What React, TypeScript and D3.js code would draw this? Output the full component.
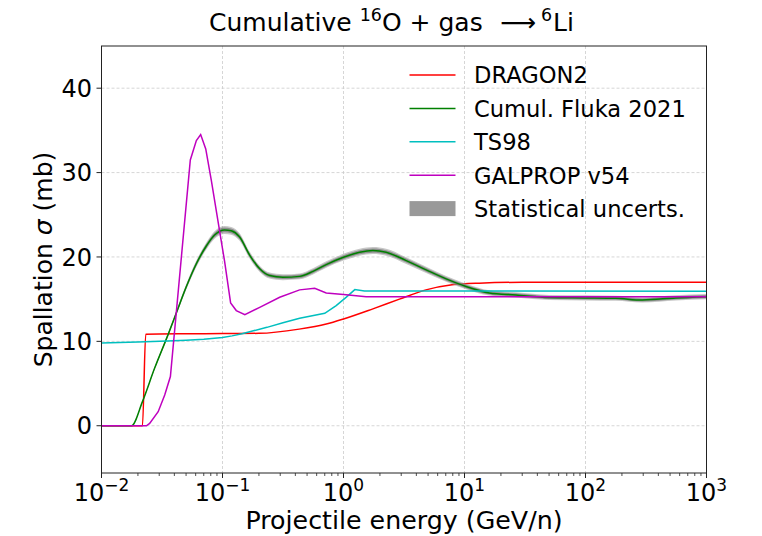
import React from 'react';
import * as d3 from 'd3';

// ---- data ----
const dragonE = [0.01, 0.0218, 0.0232, 0.05, 0.1, 0.2, 0.43, 0.72, 1.0, 1.75, 2.9, 4.8, 7.9, 13.2, 30, 100, 1000];
const dragonS = [0, 0, 10.85, 10.9, 10.92, 10.95, 11.45, 12.05, 12.65, 13.85, 15.0, 16.1, 16.7, 16.9, 17.0, 17.0, 17.0];

const flukaE = [0.01, 0.0177, 0.0218, 0.0275, 0.0355, 0.0416, 0.0503, 0.0608, 0.0735, 0.086, 0.104, 0.118, 0.138, 0.168, 0.203, 0.245, 0.316, 0.434, 0.56, 0.72, 1.0, 1.36, 1.75, 2.25, 3.3, 4.82, 7.05, 10.3, 16, 26.6, 50, 100, 178, 295, 557, 1000];
const flukaS = [0, 0, 2.86, 6.83, 10.8, 13.4, 16.5, 19.2, 21.3, 22.6, 23.2, 23.1, 22.4, 20.2, 18.6, 17.8, 17.6, 17.7, 18.3, 19.1, 19.97, 20.56, 20.76, 20.56, 19.57, 18.47, 17.4, 16.5, 15.74, 15.5, 15.2, 15.15, 15.1, 14.9, 15.15, 15.3];
const flukaRelErr = 0.02;

const ts98E = [0.01, 0.02, 0.035, 0.05, 0.07, 0.1, 0.12, 0.145, 0.18, 0.233, 0.316, 0.434, 0.70, 0.87, 1.05, 1.24, 1.49, 1000];
const ts98S = [9.8, 9.93, 10.03, 10.12, 10.25, 10.45, 10.65, 10.9, 11.25, 11.66, 12.2, 12.73, 13.33, 14.24, 15.22, 16.13, 15.97, 15.95];

const galpropE = [0.01, 0.0235, 0.025, 0.0294, 0.0333, 0.0371, 0.0542, 0.0608, 0.066, 0.0727, 0.0809, 0.0946, 0.104, 0.1167, 0.13, 0.153, 0.203, 0.297, 0.434, 0.578, 0.72, 1.0, 1.54, 1000];
const galpropS = [0, 0, 0.28, 1.67, 3.65, 5.83, 31.5, 33.8, 34.5, 32.8, 29.05, 23.1, 19.5, 14.56, 13.65, 13.17, 14.03, 15.22, 16.1, 16.29, 15.74, 15.54, 15.3, 15.3];

const xTickExps = [-2, -1, 0, 1, 2, 3];
const yTicks = [0, 10, 20, 30, 40];
const legendLabels = ['DRAGON2', 'Cumul. Fluka 2021', 'TS98', 'GALPROP v54', 'Statistical uncerts.'];
const legendColors = ['#ff0000', '#008000', '#00bfbf', '#bf00bf', '#999999'];

const FONT = "'DejaVu Sans', sans-serif";

export default function App() {
  const L = 101.5, R = 706.5, T = 46, B = 473;
  const x = d3.scaleLog().domain([1e-2, 1e3]).range([L, R]);
  const y = d3.scaleLinear().domain([-5.6, 45]).range([B, T]);

  const mkLine = (E: number[], S: number[], curve: any) =>
    d3.line<number>().x((_, i) => x(E[i])).y((d) => y(d)).curve(curve)(S) || '';

  const mkBand = (rel: number) => d3.area<number>()
    .x((_, i) => x(flukaE[i]))
    .y0((d) => y(d * (1 - rel)))
    .y1((d) => y(d * (1 + rel)))
    .curve(d3.curveMonotoneX)(flukaS) || '';

  const minorTicks: number[] = [];
  for (let e = -2; e < 3; e++) for (let k = 2; k <= 9; k++) minorTicks.push(k * Math.pow(10, e));

  const gridStyle = { stroke: '#cccccc', strokeWidth: 0.8, strokeDasharray: '3,2' };

  return (
    <svg width={762} height={536} style={{ position: 'absolute', left: 0, top: 0, background: '#fff' }} fontFamily={FONT}>
      <rect x={0} y={0} width={762} height={536} fill="#fff" />
      {/* grid */}
      {xTickExps.slice(1, -1).map((e) => (
        <line key={'gx' + e} x1={x(Math.pow(10, e))} x2={x(Math.pow(10, e))} y1={T} y2={B} {...gridStyle} />
      ))}
      {yTicks.map((t) => (
        <line key={'gy' + t} x1={L} x2={R} y1={y(t)} y2={y(t)} {...gridStyle} />
      ))}

      {/* data */}
      <path d={mkLine(dragonE, dragonS, d3.curveMonotoneX)} fill="none" stroke="#ff0000" strokeWidth={1.5} />
      <path d={mkBand(flukaRelErr)} fill="#999999" opacity={0.55} />
      <path d={mkBand(flukaRelErr * 0.6)} fill="#777777" opacity={0.7} />
      <path d={mkLine(flukaE, flukaS, d3.curveMonotoneX)} fill="none" stroke="#008000" strokeWidth={1.5} />
      <path d={mkLine(ts98E, ts98S, d3.curveLinear)} fill="none" stroke="#00bfbf" strokeWidth={1.5} />
      <path d={mkLine(galpropE, galpropS, d3.curveLinear)} fill="none" stroke="#bf00bf" strokeWidth={1.5} />

      {/* spines */}
      <rect x={L} y={T} width={R - L} height={B - T} fill="none" stroke="#222" strokeWidth={1} />

      {/* x ticks */}
      {xTickExps.map((e) => (
        <g key={'xt' + e}>
          <line x1={x(Math.pow(10, e))} x2={x(Math.pow(10, e))} y1={B} y2={B + 5} stroke="#222" strokeWidth={1} />
          <text x={x(Math.pow(10, e))} y={501} textAnchor="middle" fontSize={24} fill="#000">
            10<tspan dy={-10} fontSize={17}>{e < 0 ? '\u2212' + Math.abs(e) : String(e)}</tspan>
          </text>
        </g>
      ))}
      {minorTicks.map((v, i) => (
        <line key={'mt' + i} x1={x(v)} x2={x(v)} y1={B} y2={B + 3} stroke="#222" strokeWidth={0.8} />
      ))}

      {/* y ticks */}
      {yTicks.map((t) => (
        <g key={'yt' + t}>
          <line x1={L - 5} x2={L} y1={y(t)} y2={y(t)} stroke="#222" strokeWidth={1} />
          <text x={92} y={y(t)} dy="0.36em" textAnchor="end" fontSize={24} fill="#000">{t}</text>
        </g>
      ))}

      {/* axis labels */}
      <text x={(L + R) / 2} y={529} textAnchor="middle" fontSize={25.3} fill="#000">Projectile energy (GeV/n)</text>
      <text transform={`translate(52,${(T + B) / 2}) rotate(-90)`} textAnchor="middle" fontSize={25} fill="#000">
        Spallation <tspan fontStyle="italic">σ</tspan> (mb)
      </text>

      {/* title */}
      <text x={209} y={31} fontSize={25} fill="#000">
        Cumulative <tspan dy={-10} fontSize={17.5}>16</tspan><tspan dy={10}>O + gas</tspan>
        <tspan x={500}>⟶</tspan>
        <tspan x={541} dy={-10} fontSize={17.5}>6</tspan><tspan x={553} dy={10}>Li</tspan>
      </text>

      {/* legend */}
      {legendLabels.map((lab, i) => {
        const cy = 75 + i * 33.4;
        return (
          <g key={'lg' + i}>
            {i < 4 ? (
              <line x1={409.5} x2={455.5} y1={cy} y2={cy} stroke={legendColors[i]} strokeWidth={1.5} />
            ) : (
              <rect x={409.5} y={cy - 7.5} width={46} height={15} fill={legendColors[i]} />
            )}
            <text x={474} y={cy + 8.3} fontSize={22.6} fill="#000">{lab}</text>
          </g>
        );
      })}
    </svg>
  );
}
